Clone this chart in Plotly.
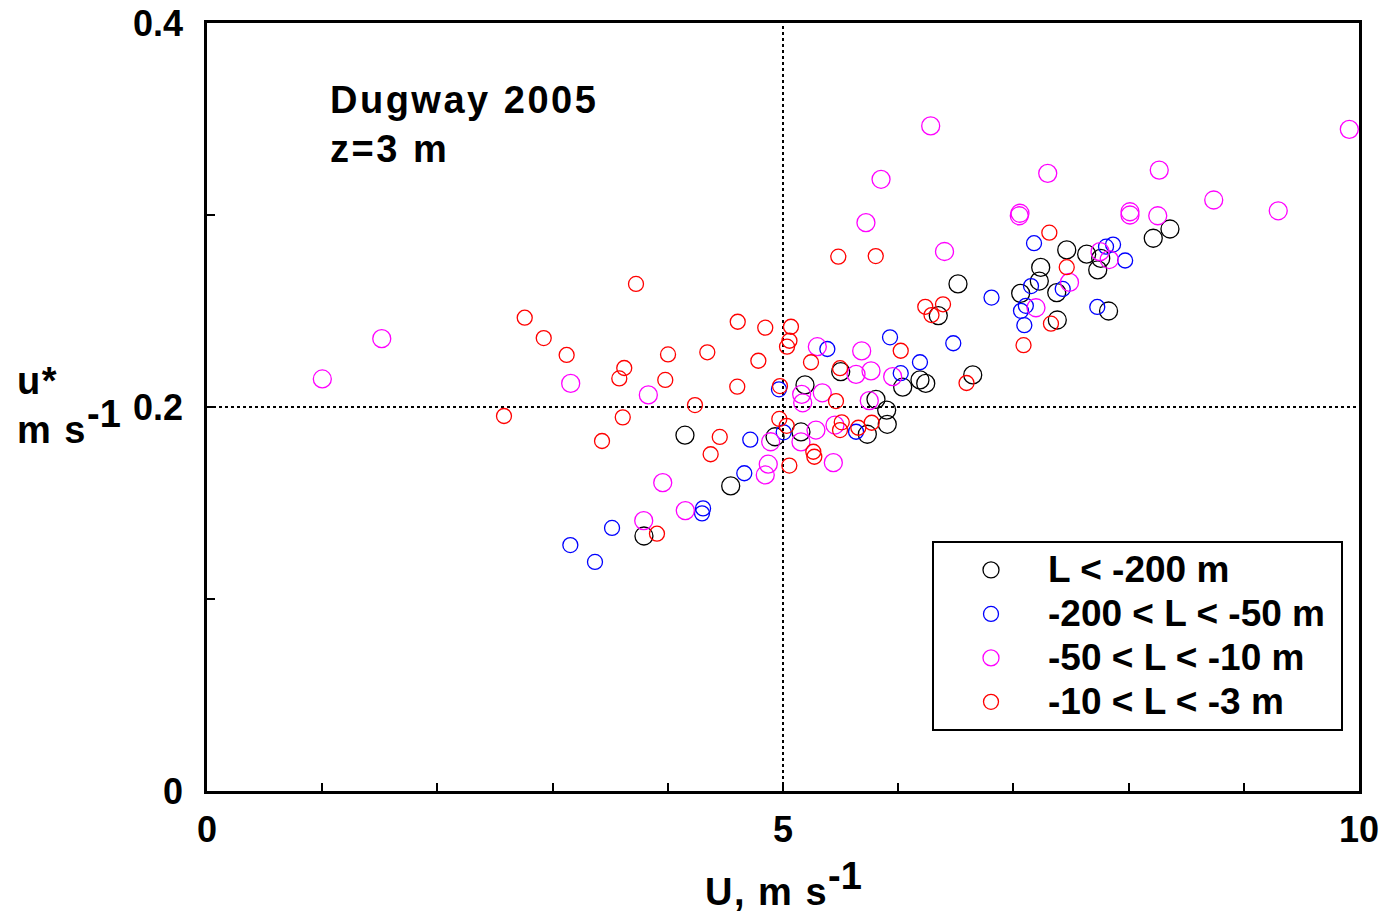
import plotly.graph_objects as go

# ---- data (U in m/s, u* in m/s) ----
black_u = [4.149, 4.931, 5.156, 4.546, 3.793, 5.191, 5.501, 6.039, 6.189, 6.239,
           5.807, 5.900, 5.905, 5.732, 6.647, 6.348, 6.519, 7.063, 7.237, 7.225,
           7.376, 7.463, 7.636, 7.758, 7.732, 7.381, 7.826, 8.214, 8.359]
black_us = [0.1853, 0.1845, 0.1870, 0.1589, 0.1328, 0.2115, 0.2184, 0.2103, 0.2141, 0.2123,
            0.2040, 0.1984, 0.1910, 0.1858, 0.2167, 0.2476, 0.2641, 0.2592, 0.2727, 0.2656,
            0.2596, 0.2818, 0.2796, 0.2774, 0.2714, 0.2453, 0.2500, 0.2879, 0.2927]

blue_u = [3.154, 3.368, 3.516, 4.306, 4.297, 4.664, 4.716, 4.965, 5.006, 5.385,
          5.929, 6.478, 6.189, 6.022, 5.634, 6.810, 7.179, 7.153, 7.428, 7.804,
          7.865, 7.970, 7.108, 7.066, 7.095, 7.728]
blue_us = [0.1281, 0.1193, 0.1370, 0.1472, 0.1446, 0.1655, 0.1830, 0.2092, 0.1868, 0.2302,
           0.2363, 0.2332, 0.2233, 0.2176, 0.1871, 0.2570, 0.2853, 0.2630, 0.2615, 0.2835,
           0.2846, 0.2763, 0.2527, 0.2501, 0.2426, 0.2521]

mag_u = [1.001, 1.517, 3.157, 3.831, 3.956, 3.791, 4.152, 4.846, 4.872, 4.893,
         5.156, 5.162, 5.171, 5.298, 5.341, 5.286, 5.451, 5.437, 5.634, 5.764,
         5.683, 5.952, 5.749, 5.720, 5.851, 6.282, 6.402, 7.057, 7.051, 7.196,
         7.298, 7.487, 7.752, 7.832, 8.012, 8.012, 8.253, 8.266, 8.739, 9.299, 9.916]
mag_us = [0.2146, 0.2356, 0.2123, 0.2063, 0.1606, 0.1408, 0.1460, 0.1646, 0.1702, 0.1819,
          0.1818, 0.2066, 0.2022, 0.2314, 0.2074, 0.1880, 0.1906, 0.1710, 0.2170, 0.2188,
          0.2292, 0.2158, 0.2033, 0.2960, 0.3186, 0.3464, 0.2810, 0.3009, 0.2996, 0.2517,
          0.3217, 0.2649, 0.2809, 0.2768, 0.3017, 0.3000, 0.2996, 0.3234, 0.3078, 0.3022, 0.3446]

red_u = [2.578, 2.758, 2.923, 3.122, 3.429, 3.579, 3.622, 3.609, 3.724, 3.906,
         3.978, 4.002, 4.236, 4.343, 4.372, 4.451, 4.607, 4.603, 4.786, 4.846,
         4.974, 4.968, 5.032, 5.055, 5.069, 5.056, 5.035, 5.243, 5.460, 5.495,
         5.510, 5.495, 5.654, 5.770, 5.263, 5.272, 5.480, 5.805, 6.022, 6.235,
         6.389, 6.289, 6.593, 7.088, 7.312, 7.326, 7.463]
red_us = [0.1953, 0.2465, 0.2359, 0.2271, 0.1823, 0.2149, 0.2203, 0.1946, 0.2641, 0.1340,
          0.2141, 0.2274, 0.2010, 0.2285, 0.1754, 0.1844, 0.2444, 0.2106, 0.2241, 0.2413,
          0.2109, 0.1938, 0.1902, 0.1695, 0.2418, 0.2345, 0.2314, 0.2233, 0.2031, 0.2202,
          0.1920, 0.1880, 0.1892, 0.1918, 0.1767, 0.1741, 0.2783, 0.2786, 0.2293, 0.2522,
          0.2535, 0.2479, 0.2125, 0.2322, 0.2908, 0.2434, 0.2728]

series_names = ["L < -200 m", "-200 < L < -50 m", "-50 < L < -10 m", "-10 < L < -3 m"]

x_tickvals = [0, 1, 2, 3, 4, 5, 6, 7, 8, 9, 10]
x_ticktext = ["0", "", "", "", "", "5", "", "", "", "", "10"]
y_tickvals = [0, 0.1, 0.2, 0.3, 0.4]
y_ticktext = ["0", "", "0.2", "", "0.4"]
ref_u = 5
ref_ustar = 0.2

FONT = "Arial, 'Liberation Sans', sans-serif"


def legend_label(s):
    # large glyphs on a tighter legend row pitch, plus a little right padding
    return '<span style="font-size:37px">' + s + '\u00a0</span>'


fig = go.Figure()
series = [
    (black_u, black_us, "#000000", 18),
    (blue_u, blue_us, "#0000FF", 15),
    (mag_u, mag_us, "#FF00FF", 18),
    (red_u, red_us, "#FF0000", 15),
]
for (xs, ys, col, sz), name in zip(series, series_names):
    fig.add_trace(go.Scatter(
        x=xs, y=ys, mode="markers", name=legend_label(name),
        marker=dict(symbol="circle-open", size=sz, color=col, line=dict(width=1.3, color=col)),
    ))

fig.add_shape(type="line", xref="x", yref="y", x0=ref_u, x1=ref_u, y0=0, y1=0.4,
              line=dict(color="black", width=2, dash="dot"), layer="below")
fig.add_shape(type="line", xref="x", yref="y", x0=0, x1=10, y0=ref_ustar, y1=ref_ustar,
              line=dict(color="black", width=2, dash="dot"), layer="below")

sup_big = '<sup><span style="font-size:38px">-1</span></sup>'

fig.update_layout(
    width=1381, height=913,
    margin=dict(l=207, r=22, t=23, b=122, autoexpand=False),
    paper_bgcolor="white", plot_bgcolor="white",
    font=dict(family=FONT, size=36, color="black", weight="bold"),
    showlegend=True,
    legend=dict(
        x=(932 - 207) / 1152, y=(791 - 541) / 768, xanchor="left", yanchor="top",
        bordercolor="black", borderwidth=2, bgcolor="white",
        font=dict(family=FONT, size=31.5, color="black", weight="bold"),
        itemwidth=104,
    ),
    xaxis=dict(range=[0, 10], tickvals=x_tickvals, ticktext=x_ticktext,
               showline=True, mirror=True, linecolor="black", linewidth=2.5,
               ticks="inside", ticklen=8, tickwidth=2, tickcolor="black",
               showgrid=False, zeroline=False, ticklabelstandoff=5),
    yaxis=dict(range=[0, 0.4], tickvals=y_tickvals, ticktext=y_ticktext,
               showline=True, mirror=True, linecolor="black", linewidth=2.5,
               ticks="inside", ticklen=8, tickwidth=2, tickcolor="black",
               showgrid=False, zeroline=False, ticklabelstandoff=14),
    annotations=[
        dict(text='<span style="letter-spacing:2.5px">Dugway 2005<br>z=3 m</span>',
             xref="paper", yref="paper",
             x=(328 - 207) / 1152, y=(791 - 77) / 768, xanchor="left", yanchor="top",
             align="left", showarrow=False, font=dict(size=38)),
        dict(text='<span style="letter-spacing:1.5px">U, m s</span>' + sup_big,
             xref="paper", yref="paper",
             x=0.5, y=(791 - 884) / 768, xanchor="center", yanchor="middle",
             showarrow=False, font=dict(size=38)),
        dict(text='<span style="letter-spacing:1.5px">u*<br>m s</span>' + sup_big,
             xref="paper", yref="paper",
             x=(15 - 207) / 1152, y=(791 - 405) / 768, xanchor="left", yanchor="middle",
             align="left", showarrow=False, font=dict(size=38)),
    ],
)

fig.write_html("out.html")
